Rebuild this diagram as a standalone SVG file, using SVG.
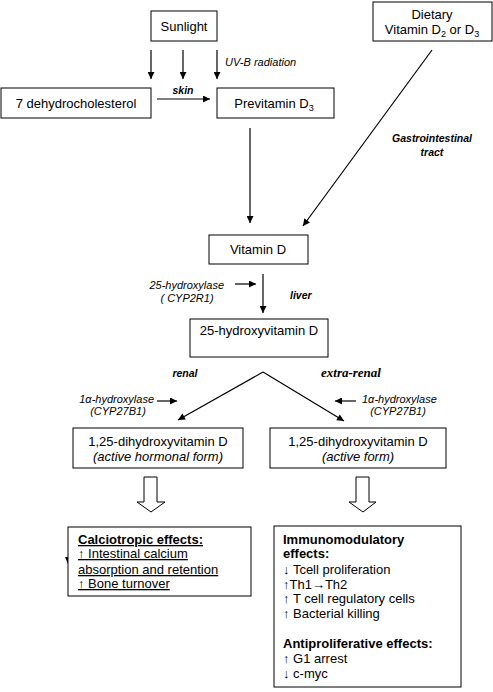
<svg xmlns="http://www.w3.org/2000/svg" width="493" height="692" viewBox="0 0 493 692">
<style>
text{font-family:"Liberation Sans",Arial,sans-serif;fill:#000}
.t{font-size:13px}
.m{text-anchor:middle}
.i{font-size:11px;font-style:italic}
.bi{font-size:10.5px;font-style:italic;font-weight:bold}
.b{font-weight:bold}
.u{text-decoration:underline}
.box{fill:#fff;stroke:#000;stroke-width:1}
.ln{stroke:#000;stroke-width:1.2;fill:none}
.hollow{fill:#fff;stroke:#000;stroke-width:1}
</style>
<defs>
<marker id="ah" viewBox="0 0 10 10" refX="10" refY="5" markerWidth="8" markerHeight="7" markerUnits="userSpaceOnUse" orient="auto">
<path d="M0,0 L10,5 L0,10 z" fill="#000"/>
</marker>
</defs>
<rect width="493" height="692" fill="#fff"/>

<g id="connectors">
<line class="ln" x1="151" y1="50" x2="151" y2="79" marker-end="url(#ah)"/>
<line class="ln" x1="183" y1="50" x2="183" y2="79" marker-end="url(#ah)"/>
<line class="ln" x1="217" y1="50" x2="217" y2="79" marker-end="url(#ah)"/>
<line class="ln" x1="157" y1="99" x2="210" y2="99" marker-end="url(#ah)"/>
<line class="ln" x1="250" y1="128" x2="250" y2="223" marker-end="url(#ah)"/>
<line class="ln" x1="432" y1="50" x2="303" y2="226" marker-end="url(#ah)"/>
<line class="ln" x1="263" y1="274" x2="263" y2="313" marker-end="url(#ah)"/>
<line class="ln" x1="235" y1="284" x2="256" y2="284" marker-end="url(#ah)"/>
<line class="ln" x1="263" y1="372" x2="178" y2="420" marker-end="url(#ah)"/>
<line class="ln" x1="263" y1="372" x2="344" y2="421" marker-end="url(#ah)"/>
<line class="ln" x1="157" y1="401" x2="177" y2="401" marker-end="url(#ah)"/>
<line class="ln" x1="356" y1="401" x2="335" y2="401" marker-end="url(#ah)"/>
<path class="hollow" d="M144,477 H157 V502 H165 L151,512 L137,502 H144 Z"/>
<path class="hollow" d="M356,477 H369 V502 H376 L363,512 L349,502 H356 Z"/>
<path d="M65,557 L71,557 L68,564 Z" fill="#000"/>
</g>

<g id="sunlight">
<rect class="box" x="151" y="11" width="66" height="30"/>
<text class="t m" x="184" y="31">Sunlight</text>
</g>
<text class="i" x="225" y="66">UV-B radiation</text>

<g id="dietary">
<rect class="box" x="373" y="2" width="119" height="39"/>
<text class="t m" x="432" y="19">Dietary</text>
<text class="t m" x="432" y="34">Vitamin D<tspan font-size="9" dy="3">2</tspan><tspan dy="-3"> or D</tspan><tspan font-size="9" dy="3">3</tspan></text>
</g>

<g id="dehydrocholesterol">
<rect class="box" x="1" y="88" width="150" height="30"/>
<text class="t m" x="76" y="108">7 dehydrocholesterol</text>
</g>
<text class="bi m" x="183" y="94">skin</text>

<g id="previtamin">
<rect class="box" x="217" y="88" width="117" height="30"/>
<text class="t m" x="274" y="108">Previtamin D<tspan font-size="9" dy="3">3</tspan></text>
</g>

<text class="bi m" x="432" y="142">Gastrointestinal</text>
<text class="bi m" x="432" y="156">tract</text>

<g id="vitamind">
<rect class="box" x="209" y="235" width="99" height="29"/>
<text class="t m" x="258" y="254">Vitamin D</text>
</g>

<text class="i" x="224" y="289" text-anchor="end">25-hydroxylase</text>
<text class="i m" x="187" y="302">( CYP2R1)</text>
<text class="bi" x="290" y="299">liver</text>

<g id="hydroxyvitamin">
<rect class="box" x="190" y="319" width="138" height="38"/>
<text class="t m" x="259" y="335">25-hydroxyvitamin D</text>
</g>

<text class="bi m" x="185" y="377">renal</text>
<text class="m" x="351" y="377" style="font-family:'Liberation Serif','Times New Roman',serif;font-size:13px;font-weight:bold;font-style:italic">extra-renal</text>

<text class="i" x="154" y="403" text-anchor="end">1α-hydroxylase</text>
<text class="i m" x="118" y="415">(CYP27B1)</text>
<text class="i" x="362" y="403">1α-hydroxylase</text>
<text class="i m" x="398" y="415">(CYP27B1)</text>

<g id="dihydroxy-renal">
<rect class="box" x="73" y="428" width="170" height="40"/>
<text class="t m" x="158" y="446">1,25-dihydroxyvitamin D</text>
<text class="t m" x="158" y="461" font-style="italic">(active hormonal form)</text>
</g>

<g id="dihydroxy-extrarenal">
<rect class="box" x="270" y="428" width="176" height="40"/>
<text class="t m" x="358" y="446">1,25-dihydroxyvitamin D</text>
<text class="t m" x="358" y="461" font-style="italic">(active form)</text>
</g>

<g id="calciotropic">
<rect class="box" x="68" y="527" width="183" height="69"/>
<text class="t b u" x="78" y="544">Calciotropic effects:</text>
<text class="t u" x="78" y="558">↑ Intestinal calcium</text>
<text class="t u" x="78" y="574">absorption and retention</text>
<text class="t u" x="78" y="588">↑ Bone turnover</text>
</g>

<g id="immunomodulatory">
<rect class="box" x="274" y="526" width="187" height="161"/>
<text class="t b" x="283" y="544">Immunomodulatory</text>
<text class="t b" x="283" y="558">effects:</text>
<text class="t" x="283" y="574">↓ Tcell proliferation</text>
<text class="t" x="283" y="589">↑Th1→Th2</text>
<text class="t" x="283" y="603">↑ T cell regulatory cells</text>
<text class="t" x="283" y="618">↑ Bacterial killing</text>
<text class="t b" x="283" y="648">Antiproliferative effects:</text>
<text class="t" x="283" y="663">↑ G1 arrest</text>
<text class="t" x="283" y="678">↓ c-myc</text>
</g>
</svg>
